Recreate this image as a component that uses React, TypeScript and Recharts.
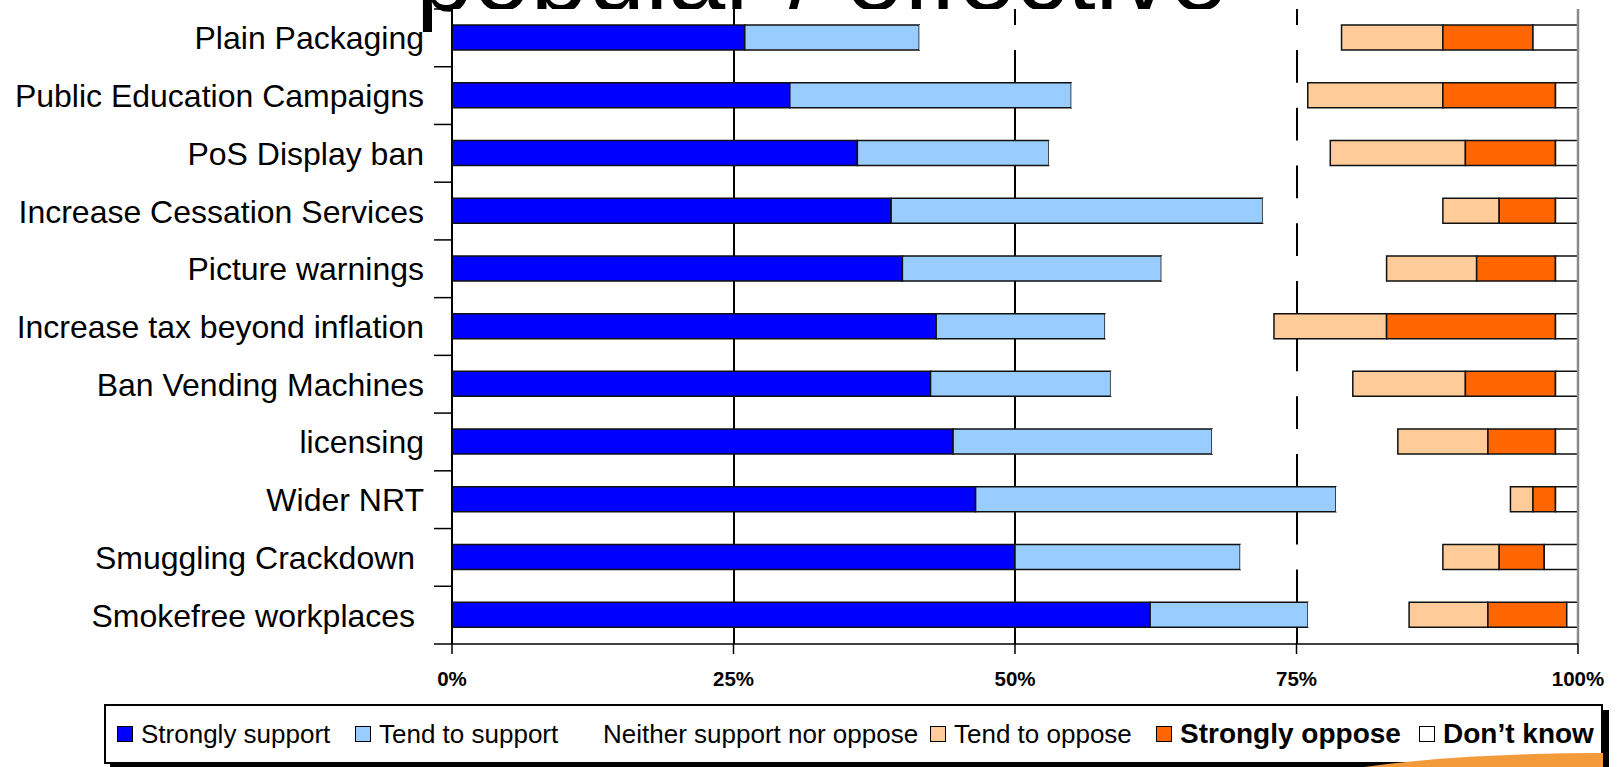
import React from "react";
import { BarChart, Bar, XAxis, YAxis, CartesianGrid, ReferenceLine, Legend } from "recharts";

const categories = [
  "Plain Packaging",
  "Public Education Campaigns",
  "PoS Display ban",
  "Increase Cessation Services",
  "Picture warnings",
  "Increase tax beyond inflation",
  "Ban Vending Machines",
  "licensing",
  "Wider NRT",
  "Smuggling Crackdown ",
  "Smokefree workplaces ",
];
const stronglySupport = [26, 30, 36, 39, 40, 43, 42.5, 44.5, 46.5, 50, 62];
const tendToSupport = [15.5, 25, 17, 33, 23, 15, 16, 23, 32, 20, 14];
const neither = [37.5, 21, 25, 16, 20, 15, 21.5, 16.5, 15.5, 18, 9];
const tendToOppose = [9, 12, 12, 5, 8, 10, 10, 8, 2, 5, 7];
const stronglyOppose = [8, 10, 8, 5, 7, 15, 8, 6, 2, 4, 7];
const dontKnow = [4, 2, 2, 2, 2, 2, 2, 2, 2, 3, 1];

const xTicks = [0, 25, 50, 75, 100];
const seriesKeys = ["ss", "ts", "ne", "to", "so", "dk"];
const seriesNames = [
  "Strongly support",
  "Tend to support",
  "Neither support nor oppose",
  "Tend to oppose",
  "Strongly oppose",
  "Don\u2019t know",
];
const seriesColors = ["#0000FF", "#99CCFF", "#FFFFFF", "#FFCC99", "#FF6600", "#FFFFFF"];
const seriesStroked = [true, true, false, true, true, true];
const legendBold = [false, false, false, false, true, true];
const legendItemWidths = [238, 224, 351, 226, 263, 180];
const titleText = "popular / effective";

const data = categories.map((name, i) => ({
  name,
  ss: stronglySupport[i],
  ts: tendToSupport[i],
  ne: neither[i],
  to: tendToOppose[i],
  so: stronglyOppose[i],
  dk: dontKnow[i],
}));

const W = 1621;
const H = 767;
const PLOT_LEFT = 452;
const PLOT_RIGHT = 1578;
const PLOT_TOP = 9;
const PLOT_BOTTOM = 644;
const X_AXIS_H = 50;
const BAND = (PLOT_BOTTOM - PLOT_TOP) / categories.length;
const FONT = "'Liberation Sans', Arial, Helvetica, sans-serif";

const CategoryTick = (props: any) => {
  const { y, payload, index } = props;
  const half = BAND / 2;
  return (
    <g>
      <text
        x={PLOT_LEFT - 28}
        y={y}
        dy="0.36em"
        textAnchor="end"
        fontSize={32}
        fontFamily={FONT}
        fill="#000"
        style={{ whiteSpace: "pre" }}
      >
        {payload.value}
      </text>
      <line x1={PLOT_LEFT - 18} x2={PLOT_LEFT} y1={y - half} y2={y - half} stroke="#000" strokeWidth={1.5} />
      {index === categories.length - 1 && (
        <line x1={PLOT_LEFT - 18} x2={PLOT_LEFT} y1={y + half} y2={y + half} stroke="#000" strokeWidth={1.5} />
      )}
    </g>
  );
};

const LegendContent = (props: any) => {
  const payload = [...(props.payload || [])].sort(
    (a: any, b: any) => seriesKeys.indexOf(a.dataKey) - seriesKeys.indexOf(b.dataKey)
  );
  return (
    <div
      style={{
        boxSizing: "border-box",
        width: 1499,
        height: 60,
        border: "2px solid #000",
        background: "#fff",
        boxShadow: "6px 6px 0 0 #000",
        display: "flex",
        alignItems: "center",
        paddingLeft: 11,
        fontFamily: FONT,
        fontSize: 26,
        color: "#000",
        whiteSpace: "nowrap",
      }}
    >
      {payload.map((entry: any) => {
        const i = seriesKeys.indexOf(entry.dataKey);
        return (
          <div
            key={entry.dataKey}
            style={{ display: "flex", alignItems: "center", width: legendItemWidths[i], flex: "none" }}
          >
            <span
              style={{
                display: "inline-block",
                boxSizing: "border-box",
                width: 16,
                height: 16,
                background: seriesColors[i],
                border: seriesStroked[i] ? "1.5px solid #000" : "none",
                marginRight: 8,
                flex: "none",
              }}
            />
            <span
              style={{
                fontWeight: legendBold[i] ? 700 : 400,
                fontSize: legendBold[i] ? 28 : 26,
              }}
            >
              {entry.value}
            </span>
          </div>
        );
      })}
    </div>
  );
};

export default function App() {
  return (
    <div
      style={{
        position: "absolute",
        left: 0,
        top: 0,
        width: W,
        height: H,
        overflow: "hidden",
        background: "#fff",
      }}
    >
      <svg width={W} height={H} style={{ position: "absolute", left: 0, top: 0 }}>
        <text x={416} y={10} fontSize={103} fontFamily={FONT} fill="#000">
          {titleText}
        </text>
      </svg>
      <div style={{ position: "absolute", left: 0, top: 0 }}>
        <BarChart
          width={W}
          height={H}
          data={data}
          layout="vertical"
          barSize={25}
          margin={{ top: PLOT_TOP, right: W - PLOT_RIGHT, bottom: H - PLOT_BOTTOM - X_AXIS_H, left: 0 }}
        >
          <CartesianGrid
            horizontal={false}
            stroke="#000"
            strokeWidth={2}
            fill="#fff"
            fillOpacity={1}
            shapeRendering="crispEdges"
          />
          <XAxis
            type="number"
            domain={[0, 100]}
            ticks={xTicks}
            tickFormatter={(v: number) => `${v}%`}
            axisLine={{ stroke: "#000", strokeWidth: 1.5 }}
            tickLine={{ stroke: "#000", strokeWidth: 1.5 }}
            tickSize={10}
            tickMargin={17}
            height={X_AXIS_H}
            tick={{ fill: "#000", fontSize: 20.5, fontWeight: 700, fontFamily: FONT }}
            interval={0}
          />
          <XAxis
            xAxisId="top"
            orientation="top"
            type="number"
            domain={[0, 100]}
            height={0}
            tick={false}
            tickLine={false}
            axisLine={{ stroke: "#888", strokeWidth: 1.5 }}
          />
          <YAxis
            type="category"
            dataKey="name"
            width={PLOT_LEFT}
            axisLine={{ stroke: "#000", strokeWidth: 1.5 }}
            tickLine={false}
            tick={<CategoryTick />}
            interval={0}
          />
          {seriesKeys.map((k, i) => (
            <Bar
              key={k}
              dataKey={k}
              name={seriesNames[i]}
              stackId="a"
              fill={seriesColors[i]}
              stroke={seriesStroked[i] ? "#111" : "none"}
              strokeWidth={1.5}
              isAnimationActive={false}
            />
          ))}
          <ReferenceLine x={100} stroke="#8a8a8a" strokeWidth={2.5} />
          <Legend
            layout="horizontal"
            verticalAlign="middle"
            align="center"
            content={<LegendContent />}
            wrapperStyle={{ left: 104, top: 704, width: 1499, height: 60 }}
          />
        </BarChart>
      </div>
      <svg
        width={W}
        height={H}
        style={{ position: "absolute", left: 0, top: 0, pointerEvents: "none" }}
      >
        <defs>
          <clipPath id="swooshClip">
            <rect x={0} y={0} width={1603} height={H} />
          </clipPath>
        </defs>
        <ellipse cx={1600} cy={803} rx={340} ry={50} fill="#F39A3B" clipPath="url(#swooshClip)" />
      </svg>
    </div>
  );
}
